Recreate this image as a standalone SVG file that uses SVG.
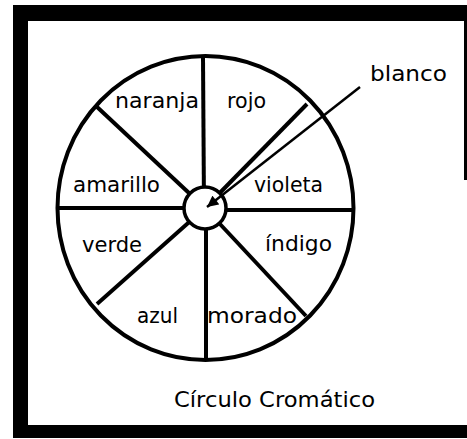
<svg xmlns="http://www.w3.org/2000/svg" width="467" height="439" viewBox="0 0 467 439">
  <style>
    .lbl { font-family: "DejaVu Sans", "Liberation Sans", sans-serif; font-size: 22px; fill: #000; }
    .spoke { stroke: #000; stroke-width: 4; stroke-linecap: butt; fill: none; }
  </style>
  <defs>
    <marker id="arr" viewBox="0 0 10 10" refX="10" refY="5" markerWidth="5" markerHeight="4.5" orient="auto" markerUnits="strokeWidth">
      <path d="M0,0 L10,5 L0,10 Z" fill="#000"/>
    </marker>
  </defs>
  <rect width="467" height="439" fill="#fff"/>
  <g id="frame" fill="#000">
    <rect x="13" y="5" width="454" height="16"/>
    <rect x="13" y="5" width="15" height="433"/>
    <rect x="13" y="425" width="454" height="13"/>
    <rect x="464" y="5" width="3" height="175"/>
  </g>
  <g id="wheel">
    <ellipse cx="205.5" cy="208" rx="148" ry="152" fill="#fff" stroke="#000" stroke-width="4"/>
    <line class="spoke" x1="203" y1="57" x2="204" y2="208"/>
    <line class="spoke" x1="307" y1="104" x2="205" y2="208"/>
    <line class="spoke" x1="352" y1="210" x2="205" y2="210"/>
    <line class="spoke" x1="306" y1="316" x2="205" y2="208"/>
    <line class="spoke" x1="206" y1="360" x2="206" y2="208"/>
    <line class="spoke" x1="97" y1="304" x2="205" y2="208"/>
    <line class="spoke" x1="58" y1="208" x2="205" y2="208"/>
    <line class="spoke" x1="96" y1="106" x2="205" y2="208"/>
  </g>
  <g id="centro">
    <circle cx="205" cy="208" r="21" fill="#fff" stroke="#000" stroke-width="3.5"/>
  </g>
  <g id="connectors">
    <line x1="360" y1="87" x2="207" y2="207" stroke="#000" stroke-width="2.5" marker-end="url(#arr)"/>
  </g>
  <g id="naranja"><text class="lbl" x="115" y="108" textLength="84" lengthAdjust="spacingAndGlyphs">naranja</text></g>
  <g id="rojo"><text class="lbl" x="227" y="108" textLength="39" lengthAdjust="spacingAndGlyphs">rojo</text></g>
  <g id="amarillo"><text class="lbl" x="73" y="192" textLength="87" lengthAdjust="spacingAndGlyphs">amarillo</text></g>
  <g id="violeta"><text class="lbl" x="254" y="192" textLength="69" lengthAdjust="spacingAndGlyphs">violeta</text></g>
  <g id="verde"><text class="lbl" x="82" y="252" textLength="60" lengthAdjust="spacingAndGlyphs">verde</text></g>
  <g id="indigo"><text class="lbl" x="265" y="251" textLength="67" lengthAdjust="spacingAndGlyphs">índigo</text></g>
  <g id="azul"><text class="lbl" x="137" y="323" textLength="41" lengthAdjust="spacingAndGlyphs">azul</text></g>
  <g id="morado"><text class="lbl" x="207" y="323" textLength="90" lengthAdjust="spacingAndGlyphs">morado</text></g>
  <g id="blanco"><text class="lbl" x="370" y="81" textLength="77" lengthAdjust="spacingAndGlyphs">blanco</text></g>
  <g id="titulo"><text class="lbl" x="174" y="407" textLength="201" lengthAdjust="spacingAndGlyphs">Círculo Cromático</text></g>
</svg>
